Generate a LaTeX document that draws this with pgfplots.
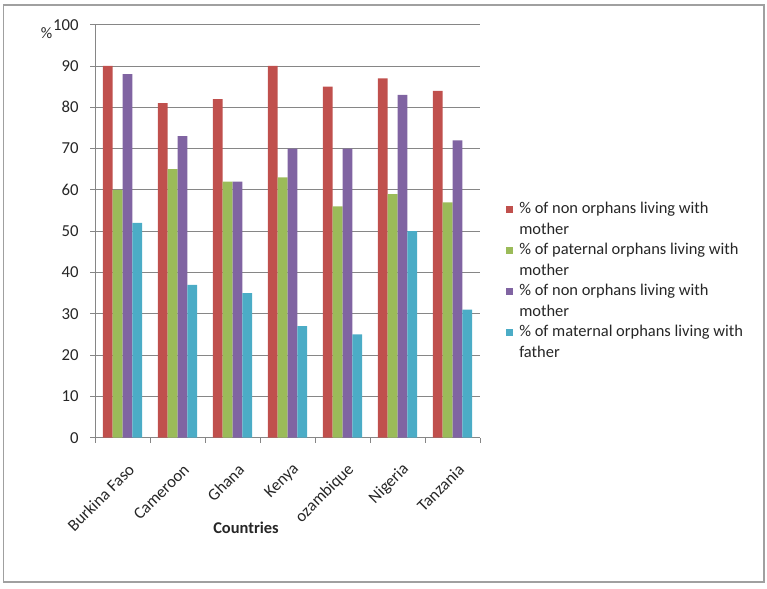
\documentclass[border=0pt]{standalone}
\usepackage{pgfplots}
\pgfplotsset{compat=1.18}
\usepackage{fontspec}
\setmainfont{Carlito}
\definecolor{ered}{HTML}{C0504D}
\definecolor{egreen}{HTML}{9BBB59}
\definecolor{epurple}{HTML}{8064A2}
\definecolor{eaqua}{HTML}{4BACC6}
\definecolor{axgray}{HTML}{868686}
\definecolor{bordergray}{HTML}{A0A0A0}
\begin{document}
\fontsize{16}{20.5}\selectfont
\begin{tikzpicture}[x=1bp,y=1bp]
\path[use as bounding box] (0,0) rectangle (767,589);
\draw[bordergray, line width=1.5bp] (3.5,7) rectangle (764,584);
\node[font=\fontsize{16}{20}\selectfont, text=black!85] at (46.5,555.5) {\%};
\node[font=\fontsize{16.5}{20}\selectfont\bfseries, text=black!85] at (246,61) {Countries};
\begin{axis}[
  at={(95bp,151.3bp)}, anchor=south west,
  scale only axis, width=385bp, height=413bp,
  xmin=-0.5, xmax=6.5, ymin=0, ymax=100,
  /pgf/number format/assume math mode=true,
  ytick={0,10,...,100},
  xtick={-0.5,0.5,...,6.5},
  xticklabels={},
  extra x ticks={0,...,6},
  extra x tick labels={Burkina Faso,Cameroon,Ghana,Kenya,ozambique,Nigeria,Tanzania},
  extra x tick style={major tick length=0pt, tick style={draw=none},
    xticklabel style={rotate=45, anchor=east, xshift=-9bp, yshift=-27bp}},
  axis x line*=bottom, axis y line*=left,
  axis line style={axgray, line width=0.8bp, -},
  ymajorgrids, grid style={axgray, line width=0.8bp},
  tick align=outside,
  major tick length=5bp,
  tick style={axgray, line width=0.8bp},
  ticklabel style={font=\fontsize{16.8}{20}\selectfont, text=black!85},
  yticklabel style={xshift=-6bp},
  ybar=0pt, bar width=9.8bp,
  every axis plot/.append style={draw=none},
  legend style={at={(1.06,0.58)}, anchor=north west, draw=none, fill=none,
    font=\fontsize{16.5}{20.5}\selectfont, text=black!85,
    nodes={inner ysep=2bp, inner xsep=6bp}, row sep=2.8bp,
    cells={anchor=west, align=left}},
  legend image code/.code={\fill[#1] (-1bp,6.5bp) rectangle (6bp,13.5bp);},
]
\addplot[fill=ered] coordinates {(0,90) (1,81) (2,82) (3,90) (4,85) (5,87) (6,84)};
\addplot[fill=egreen] coordinates {(0,60) (1,65) (2,62) (3,63) (4,56) (5,59) (6,57)};
\addplot[fill=epurple] coordinates {(0,88) (1,73) (2,62) (3,70) (4,70) (5,83) (6,72)};
\addplot[fill=eaqua] coordinates {(0,52) (1,37) (2,35) (3,27) (4,25) (5,50) (6,31)};
\legend{{\% of non orphans living with\\mother},{\% of paternal orphans living with\\mother},{\% of non orphans living with\\mother},{\% of maternal orphans living with\\father}}
\end{axis}
\end{tikzpicture}
\end{document}
